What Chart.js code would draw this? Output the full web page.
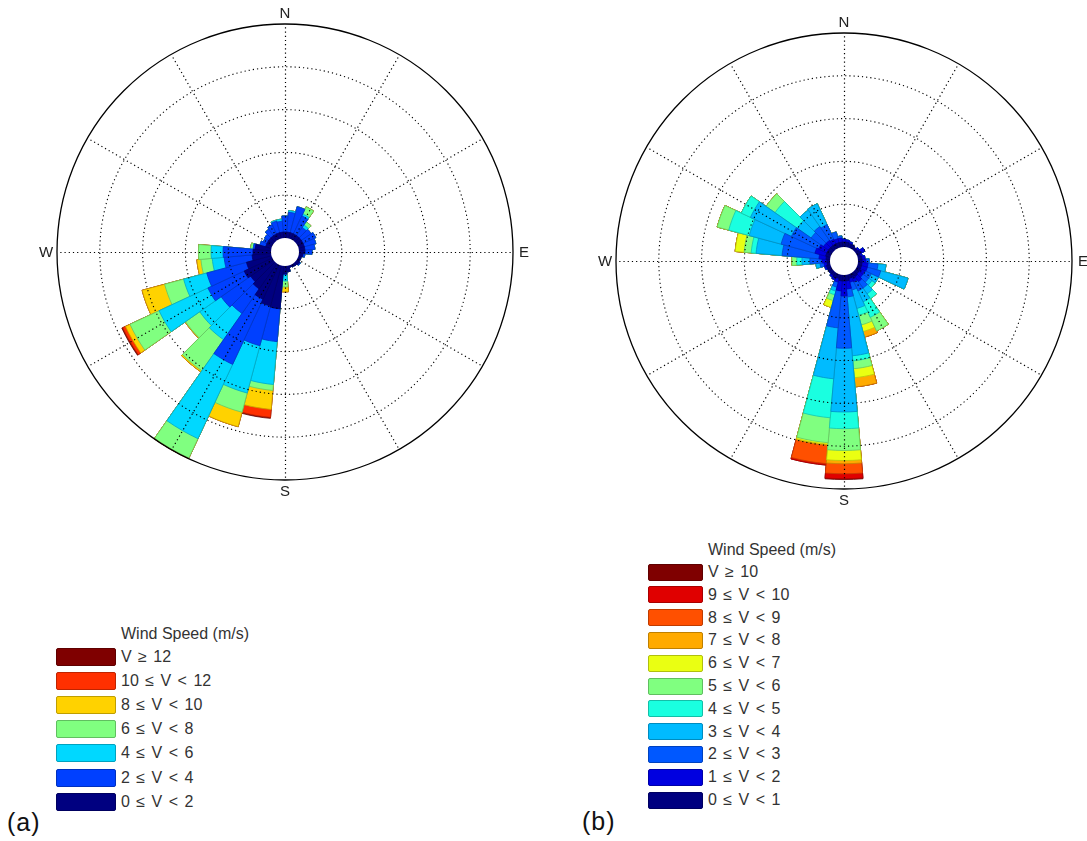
<!DOCTYPE html>
<html>
<head>
<meta charset="utf-8">
<title>Wind roses</title>
<script src="https://cdn.jsdelivr.net/npm/chart.js@4.4.1/dist/chart.umd.min.js"></script>
<style>
  html, body { margin: 0; padding: 0; background: #fff; }
  body { width: 1087px; height: 841px; position: relative; overflow: hidden;
         font-family: "Liberation Sans", Arial, Helvetica, sans-serif; color: #222; }
  canvas { position: absolute; }
  .legend { position: absolute; left: 0; top: 0; }
  .legend .title { position: absolute; white-space: nowrap; font-size: 16px; line-height: 18px; color: #333; }
  .legend .swatch { position: absolute; box-sizing: border-box; border: 1px solid; border-radius: 2px; }
  .legend .lab { position: absolute; white-space: nowrap; font-size: 16px; line-height: 18px;
                 word-spacing: 2px; color: #333; }
  .panel { position: absolute; font-size: 25px; line-height: 25px; letter-spacing: 1px; color: #111; }
</style>
</head>
<body>
<canvas id="roseA" width="560" height="530" style="left:0px;top:0px"></canvas>
<canvas id="roseB" width="527" height="530" style="left:560px;top:0px"></canvas>
<div id="legendA" class="legend"></div>
<div id="legendB" class="legend"></div>
<div class="panel" style="left:7px;top:810px">(a)</div>
<div class="panel" style="left:582px;top:809px">(b)</div>

<script>
// Direction bins: centre of each 10-degree sector, clockwise from north
const directions = [0, 10, 20, 30, 40, 50, 60, 70, 80, 90, 100, 110,
                    120, 130, 140, 150, 160, 170, 180, 190, 200, 210, 220, 230,
                    240, 250, 260, 270, 280, 290, 300, 310, 320, 330, 340, 350];

// Rose (a): frequency (%) of each speed class per direction bin
const aSpeed0to2 = [0.28, 0.28, 0.28, 0.28, 0.28, 0.28, 0.28, 0.28, 0.28, 0.28, 0.19, 0.14,
                    0.14, 0.19, 0.14, 0.12, 0.09, 0.28, 0.37, 2.01, 1.96, 1.78, 1.45, 1.31,
                    1.45, 1.21, 0.89, 0.84, 0.75, 0.28, 0.28, 0.28, 0.28, 0.28, 0.28, 0.28];
const aSpeed2to4 = [0.75, 0.93, 1.26, 0.93, 0.47, 0.56, 0.65, 0.56, 0.47, 0.33, 0.09, 0,
                    0, 0.04, 0, 0, 0, 0, 0.03, 1.54, 1.92, 3.36, 1.40, 1.68,
                    1.87, 1.92, 1.31, 1.40, 0.09, 0.28, 0.19, 0.23, 0.37, 0.47, 0.56, 0.51];
const aSpeed4to6 = [0, 0.08, 0, 0.10, 0.14, 0, 0, 0, 0, 0, 0, 0,
                    0, 0, 0, 0, 0, 0, 0.30, 2.01, 2.29, 3.83, 1.50, 1.22,
                    2.52, 1.12, 0.56, 0.56, 0, 0, 0, 0, 0, 0, 0.05, 0.10];
const aSpeed6to8 = [0, 0, 0, 0.37, 0.18, 0, 0, 0, 0, 0, 0, 0,
                    0, 0, 0, 0, 0, 0, 0.28, 0.28, 0.93, 1.00, 1.77, 0.81,
                    1.50, 0.92, 0.53, 0.59, 0.12, 0, 0, 0, 0, 0, 0, 0];
const aSpeed8to10 = [0, 0, 0, 0, 0, 0, 0, 0, 0, 0, 0, 0,
                     0, 0, 0, 0, 0, 0, 0.23, 0.89, 0.70, 0.03, 0.07, 0.03,
                     0.23, 1.09, 0.19, 0, 0, 0, 0, 0, 0, 0, 0, 0];
const aSpeed10to12 = [0, 0, 0, 0, 0, 0, 0, 0, 0, 0, 0, 0,
                      0, 0, 0, 0, 0, 0, 0, 0.37, 0, 0, 0, 0,
                      0.14, 0, 0, 0, 0, 0, 0, 0, 0, 0, 0, 0];
const aSpeed12up = [0, 0, 0, 0, 0, 0, 0, 0, 0, 0, 0, 0,
                    0, 0, 0, 0, 0, 0, 0, 0.05, 0, 0, 0, 0,
                    0.05, 0, 0, 0, 0, 0, 0, 0, 0, 0, 0, 0];
const aClassNames = ['0 \u2264 V < 2', '2 \u2264 V < 4', '4 \u2264 V < 6', '6 \u2264 V < 8',
                     '8 \u2264 V < 10', '10 \u2264 V < 12', 'V \u2265 12'];

// Rose (b): frequency (%) of each speed class per direction bin
const bSpeed0to1 = [0.23, 0.23, 0.19, 0.19, 0.14, 0.14, 0.19, 0.14, 0.19, 0.19, 0.19, 0.19,
                    0.19, 0.19, 0.23, 0.19, 0.19, 0.28, 0.28, 0.28, 0.19, 0.23, 0.19, 0.19,
                    0.19, 0.19, 0.14, 0.14, 0.19, 0.23, 0.23, 0.23, 0.23, 0.23, 0.23, 0.23];
const bSpeed1to2 = [0.14, 0.10, 0.09, 0, 0, 0.09, 0.23, 0.09, 0.14, 0.18, 0.28, 0.28,
                    0.23, 0.23, 0.29, 0.23, 0.18, 0.38, 0.70, 0.47, 0.18, 0.10, 0.09, 0,
                    0, 0.09, 0.14, 0.23, 0.33, 0.52, 0.43, 0.29, 0.29, 0.24, 0.19, 0.19];
const bSpeed2to3 = [0, 0, 0, 0, 0, 0, 0, 0, 0, 0.15, 0.47, 0.65,
                    0.33, 0.33, 0.37, 0.47, 0.38, 0.37, 2.44, 1.73, 0.24, 0, 0, 0,
                    0, 0, 0.19, 0.57, 1.73, 1.64, 1.40, 0.70, 0.79, 0.75, 0.33, 0.10];
const bSpeed3to4 = [0, 0, 0, 0, 0, 0, 0, 0, 0, 0, 0.37, 1.32,
                    0.37, 0.19, 0.33, 0.56, 0.89, 2.76, 2.98, 2.39, 0.19, 0, 0, 0,
                    0, 0, 0.19, 0.37, 1.22, 1.54, 2.11, 0.79, 0.94, 1.08, 0, 0];
const bSpeed4to5 = [0, 0, 0, 0, 0, 0, 0, 0, 0, 0, 0, 0,
                    0, 0.18, 0.28, 0.80, 0.33, 0.24, 0.78, 1.83, 0.18, 0, 0, 0,
                    0, 0, 0, 0.24, 0.23, 0.99, 0.47, 1.27, 0, 0, 0, 0];
const bSpeed5to6 = [0, 0, 0, 0, 0, 0, 0, 0, 0, 0, 0, 0,
                    0, 0, 0, 0.70, 0.47, 0.37, 1.02, 1.17, 0.28, 0, 0, 0,
                    0, 0, 0, 0.23, 0.33, 0.56, 0, 0.51, 0, 0, 0, 0];
const bSpeed6to7 = [0, 0, 0, 0, 0, 0, 0, 0, 0, 0, 0, 0,
                    0, 0, 0, 0, 0.32, 0.42, 0.47, 0.07, 0.33, 0, 0, 0,
                    0, 0, 0, 0, 0.42, 0, 0, 0, 0, 0, 0, 0];
const bSpeed7to8 = [0, 0, 0, 0, 0, 0, 0, 0, 0, 0, 0, 0,
                    0, 0, 0, 0, 0.27, 0.43, 0.15, 0.05, 0, 0, 0, 0,
                    0, 0, 0, 0, 0, 0, 0, 0, 0, 0, 0, 0];
const bSpeed8to9 = [0, 0, 0, 0, 0, 0, 0, 0, 0, 0, 0, 0,
                    0, 0, 0, 0, 0, 0, 0.47, 0.86, 0, 0, 0, 0,
                    0, 0, 0, 0, 0, 0, 0, 0, 0, 0, 0, 0];
const bSpeed9to10 = [0, 0, 0, 0, 0, 0, 0, 0, 0, 0, 0, 0,
                     0, 0, 0, 0, 0, 0, 0.23, 0.07, 0, 0, 0, 0,
                     0, 0, 0, 0, 0, 0, 0, 0, 0, 0, 0, 0];
const bSpeed10up = [0, 0, 0, 0, 0, 0, 0, 0, 0, 0, 0, 0,
                    0, 0, 0, 0, 0, 0, 0.04, 0, 0, 0, 0, 0,
                    0, 0, 0, 0, 0, 0, 0, 0, 0, 0, 0, 0];
const bClassNames = ['0 \u2264 V < 1', '1 \u2264 V < 2', '2 \u2264 V < 3', '3 \u2264 V < 4',
                     '4 \u2264 V < 5', '5 \u2264 V < 6', '6 \u2264 V < 7', '7 \u2264 V < 8',
                     '8 \u2264 V < 9', '9 \u2264 V < 10', 'V \u2265 10'];

// Radial rings (frequency %)
const ringValues = [2, 4, 6, 8, 10];
const compass = ['N', 'E', 'S', 'W'];

// Palettes, slowest class first
const aColors = ['#000080', '#0040ff', '#00d8ff', '#80ff80', '#ffd200', '#ff3000', '#7f0000'];
const bColors = ['#000080', '#0000e0', '#0058ff', '#00bbff', '#1affe0', '#80ff80',
                 '#eaff12', '#ffaa00', '#ff5000', '#e00000', '#7f0000'];

function darken(hex, f) {
  const n = parseInt(hex.slice(1), 16);
  const r = Math.round(((n >> 16) & 255) * f), g = Math.round(((n >> 8) & 255) * f), b = Math.round((n & 255) * f);
  return 'rgb(' + r + ',' + g + ',' + b + ')';
}

// Stack speed classes outward: each ring ends at the running total
function stacked(series) {
  const run = series[0].map(() => 0);
  return series.map(s => s.map((v, i) => { run[i] += v; return Math.round(run[i] * 1000) / 1000; }));
}

// Dotted spokes every 30 degrees, blank centre and compass letters
const roseFrame = {
  id: 'roseFrame',
  afterDatasetsDraw(chart) {
    const s = chart.scales.r;
    const ctx = chart.ctx;
    const cx = s.xCenter, cy = s.yCenter;
    const r0 = s.getDistanceFromCenterForValue(0);
    const r1 = s.getDistanceFromCenterForValue(s.max);
    ctx.save();
    ctx.strokeStyle = '#000';
    ctx.lineWidth = 1.2;
    ctx.setLineDash([1.2, 3]);
    for (let d = 0; d < 360; d += 30) {
      const a = (d - 90) * Math.PI / 180;
      ctx.beginPath();
      ctx.moveTo(cx + 0.5 + Math.cos(a) * r0, cy + 0.5 + Math.sin(a) * r0);
      ctx.lineTo(cx + 0.5 + Math.cos(a) * r1, cy + 0.5 + Math.sin(a) * r1);
      ctx.stroke();
    }
    ctx.setLineDash([]);
    ctx.fillStyle = '#fff';
    ctx.beginPath();
    ctx.arc(cx, cy, r0, 0, Math.PI * 2);
    ctx.fill();
    ctx.fillStyle = '#222';
    ctx.font = '15px "Liberation Sans", Arial, sans-serif';
    ctx.textAlign = 'center';
    ctx.textBaseline = 'middle';
    const rl = r1 + 11;
    compass.forEach((t, k) => {
      const a = (k * 90 - 90) * Math.PI / 180;
      ctx.fillText(t, cx + Math.cos(a) * rl, cy + Math.sin(a) * rl + 1);
    });
    ctx.restore();
  }
};

function drawRose(canvasId, series, colors, names, hole, padding) {
  const cum = stacked(series);
  const datasets = cum.map((d, k) => ({
    label: names[k],
    data: d,
    backgroundColor: colors[k],
    borderColor: darken(colors[k], 0.78),
    borderWidth: 0.8
  }));
  return new Chart(document.getElementById(canvasId), {
    type: 'polarArea',
    data: { labels: directions, datasets },
    options: {
      responsive: false,
      animation: false,
      events: [],
      layout: { padding },
      plugins: { legend: { display: false }, tooltip: { enabled: false } },
      elements: { arc: { borderJoinStyle: 'miter', borderAlign: 'center' } },
      scales: {
        r: {
          min: -hole,
          max: ringValues[ringValues.length - 1],
          startAngle: -5,
          afterBuildTicks: sc => { sc.ticks = ringValues.map(v => ({ value: v })); },
          ticks: { display: false },
          pointLabels: { display: false },
          angleLines: { display: false },
          grid: {
            circular: true,
            z: 1,
            color: '#000',
            lineWidth: c => (c.index === ringValues.length - 1 ? 1.3 : 1.1)
          },
          border: { dash: c => (c.index === ringValues.length - 1 ? [] : [1.2, 3]) }
        }
      }
    },
    plugins: [roseFrame]
  });
}

function drawLegend(id, names, colors, L) {
  const host = document.getElementById(id);
  const title = document.createElement('div');
  title.className = 'title';
  title.textContent = 'Wind Speed (m/s)';
  title.style.left = L.textX + 'px';
  title.style.top = (L.titleMid - 9) + 'px';
  host.appendChild(title);
  const n = names.length;
  for (let j = 0; j < n; j++) {
    const k = n - 1 - j;            // fastest class on top
    const top = L.top + j * L.step;
    const sw = document.createElement('div');
    sw.className = 'swatch';
    sw.style.left = L.x + 'px';
    sw.style.top = top + 'px';
    sw.style.width = L.w + 'px';
    sw.style.height = L.h + 'px';
    sw.style.background = colors[k];
    sw.style.borderColor = darken(colors[k], 0.75);
    host.appendChild(sw);
    const lab = document.createElement('div');
    lab.className = 'lab';
    lab.textContent = names[k];
    lab.style.left = L.textX + 'px';
    lab.style.top = (top + L.h / 2 - 9) + 'px';
    host.appendChild(lab);
  }
}

drawRose('roseA',
  [aSpeed0to2, aSpeed2to4, aSpeed4to6, aSpeed6to8, aSpeed8to10, aSpeed10to12, aSpeed12up],
  aColors, aClassNames, 0.654, { left: 57, top: 24, right: 47, bottom: 50 });

drawRose('roseB',
  [bSpeed0to1, bSpeed1to2, bSpeed2to3, bSpeed3to4, bSpeed4to5, bSpeed5to6,
   bSpeed6to7, bSpeed7to8, bSpeed8to9, bSpeed9to10, bSpeed10up],
  bColors, bClassNames, 0.656, { left: 56, top: 33, right: 15, bottom: 41 });

drawLegend('legendA', aClassNames, aColors,
  { x: 56, w: 60, h: 18, top: 648, step: 24.1, textX: 121, titleMid: 634 });
drawLegend('legendB', bClassNames, bColors,
  { x: 648, w: 55, h: 17, top: 563.5, step: 22.8, textX: 708, titleMid: 550 });
</script>
</body>
</html>
